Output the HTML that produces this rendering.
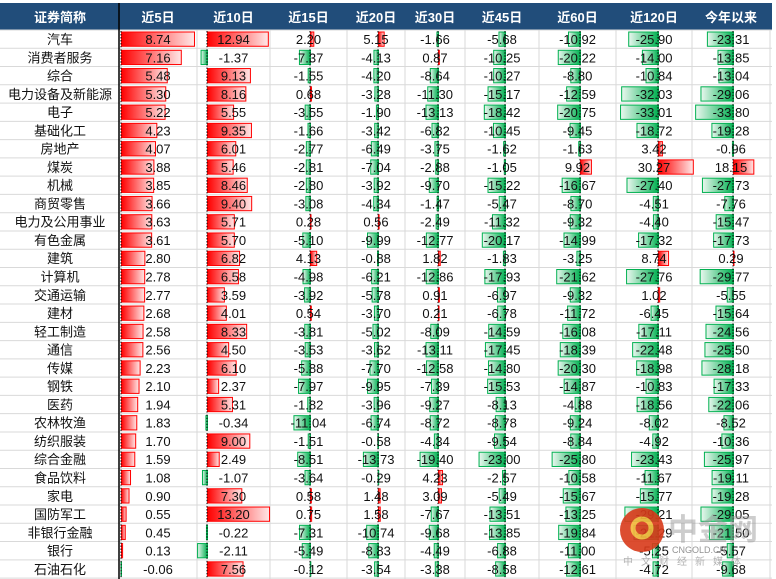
<!DOCTYPE html>
<html><head><meta charset="utf-8"><style>
body{margin:0;background:#fff;width:776px;height:579px;overflow:hidden}
svg{display:block;font-family:"Liberation Sans","Noto Sans CJK SC",sans-serif}
</style></head><body>
<svg id="chart" width="776" height="579" xmlns="http://www.w3.org/2000/svg">
<defs>
<linearGradient id="gpos" x1="0" x2="1" y1="0" y2="0"><stop offset="0" stop-color="#ff0000"/><stop offset="1" stop-color="#ffe8e8"/></linearGradient>
<linearGradient id="gneg" x1="0" x2="1" y1="0" y2="0"><stop offset="0" stop-color="#eaf7ef"/><stop offset="1" stop-color="#00b050"/></linearGradient>
</defs>
</svg>
<script>
const headers = ["近5日","近10日","近15日","近20日","近30日","近45日","近60日","近120日","今年以来"];
const sectors = ["汽车","消费者服务","综合","电力设备及新能源","电子","基础化工","房地产","煤炭","机械","商贸零售","电力及公用事业","有色金属","建筑","计算机","交通运输","建材","轻工制造","通信","传媒","钢铁","医药","农林牧渔","纺织服装","综合金融","食品饮料","家电","国防军工","非银行金融","银行","石油石化"];
const r5 = [8.74,7.16,5.48,5.30,5.22,4.23,4.07,3.88,3.85,3.66,3.63,3.61,2.80,2.78,2.77,2.68,2.58,2.56,2.23,2.10,1.94,1.83,1.70,1.59,1.08,0.90,0.55,0.45,0.13,-0.06];
const r10 = [12.94,-1.37,9.13,8.16,5.55,9.35,6.01,5.46,8.46,9.40,5.71,5.70,6.82,6.58,3.59,4.01,8.33,4.50,6.10,2.37,5.31,-0.34,9.00,2.49,-1.07,7.30,13.20,-0.22,-2.11,7.56];
const r15 = [2.20,-7.37,-1.55,0.68,-3.55,-1.66,-2.77,-2.81,-2.80,-3.08,0.28,-5.10,4.13,-4.98,-3.92,0.54,-3.81,-3.53,-5.88,-7.97,-1.82,-11.04,-1.51,-8.51,-3.64,0.58,0.75,-7.31,-5.49,-0.12];
const r20 = [5.15,-4.13,-4.20,-3.28,-1.90,-3.42,-6.49,-7.04,-3.92,-4.34,0.56,-9.99,-0.88,-6.21,-5.78,-3.70,-5.02,-3.62,-7.70,-9.95,-3.96,-6.74,-0.58,-13.73,-0.29,1.48,1.58,-10.74,-8.83,-3.54];
const r30 = [-1.66,0.87,-8.64,-11.30,-13.13,-6.82,-3.75,-2.88,-9.70,-1.47,-2.49,-12.77,1.82,-12.86,0.91,0.21,-8.09,-13.11,-12.58,-7.39,-9.27,-8.72,-4.34,-19.40,4.23,3.09,-7.67,-9.68,-4.49,-3.38];
const r45 = [-5.68,-10.25,-10.27,-15.17,-18.42,-10.45,-1.62,-1.05,-15.22,-5.47,-11.32,-20.17,-1.83,-17.93,-6.97,-6.78,-14.59,-17.45,-14.80,-15.53,-8.13,-8.78,-9.54,-23.00,-2.57,-5.49,-13.51,-13.85,-6.88,-8.58];
const r60 = [-10.92,-20.22,-8.80,-12.59,-20.75,-9.45,-1.63,9.92,-16.67,-8.70,-9.32,-14.99,-3.25,-21.62,-9.32,-11.72,-16.08,-18.39,-20.30,-14.87,-4.88,-9.24,-8.84,-25.80,-10.58,-15.67,-13.25,-19.84,-11.00,-12.61];
const r120 = [-25.90,-14.00,-10.84,-32.03,-33.01,-18.72,3.42,30.27,-27.40,-4.51,-4.40,-17.32,8.74,-27.76,1.02,-6.45,-17.11,-22.48,-18.98,-10.83,-18.56,-8.02,-4.92,-23.43,-11.67,-15.77,-29.21,-21.29,-5.25,-4.72];
const rytd = [-23.31,-13.85,-13.04,-29.06,-33.80,-19.28,-0.96,18.15,-27.73,-7.76,-15.47,-17.73,0.29,-29.77,-5.55,-15.64,-24.56,-25.50,-28.18,-17.33,-22.06,-8.52,-10.36,-25.97,-19.11,-19.28,-29.05,-21.50,-5.57,-9.68];
const series = [r5,r10,r15,r20,r30,r45,r60,r120,rytd];
const colX0 = [119,197,270,347,405,465,539,616,692];
const colX1 = [197,270,347,405,465,539,616,692,770];
const axisX = [121,207,310,378,438,505,580,658,733];
const pxPerUnit = [8.35,4.7,1.5,1.1,0.95,1.15,1.1,1.15,1.12];
const NS="http://www.w3.org/2000/svg";
const svg=document.getElementById('chart');
const top0=30, rowH=18.27;
function mk(tag,attrs,parent){const e=document.createElementNS(NS,tag);for(const k in attrs)e.setAttribute(k,attrs[k]);(parent||svg).appendChild(e);return e;}
function rowY(i){return top0+i*rowH;}
function barX(c,v){return axisX[c]+v*pxPerUnit[c];}
// header
let h=mk('rect',{x:0,y:3,width:772,height:27,fill:'#214d7a'});


let t=mk('text',{x:60,y:22,'text-anchor':'middle','font-size':13,'font-weight':'bold',fill:'#fff'});t.textContent='证券简称';


headers.forEach((s,c)=>{const e=mk('text',{x:(colX0[c]+colX1[c])/2,y:22,'text-anchor':'middle','font-size':13,'font-weight':'bold',fill:'#fff'});e.textContent=s;

});
// grid
for(let i=0;i<=sectors.length;i++){mk('line',{x1:0,x2:772,y1:rowY(i),y2:rowY(i),stroke:'#d9d9d9','stroke-width':1});}
colX1.forEach(x=>mk('line',{x1:x,x2:x,y1:30,y2:579,stroke:'#d9d9d9','stroke-width':1}));
mk('line',{x1:119,x2:119,y1:3,y2:579,stroke:'#000','stroke-width':1.5});
// rows
sectors.forEach((name,i)=>{
  const y=rowY(i);
  const n=mk('text',{x:60,y:y+14,'text-anchor':'middle','font-size':13,fill:'#111'});n.textContent=name;
  
  
  series.forEach((arr,c)=>{
    const v=arr[i];const a=axisX[c];const b=barX(c,v);
    const x=Math.min(a,b),w=Math.max(Math.abs(b-a),0.5);
    const r=mk('rect',{x:x+0.5,y:y+2,width:w,height:rowH-4,fill:v>=0?'url(#gpos)':'url(#gneg)',stroke:v>=0?'#ff0000':'#00b050','stroke-width':1});
    
    
    mk('line',{x1:a,x2:a,y1:y+1,y2:y+rowH-1,stroke:'#000','stroke-width':1,'stroke-dasharray':'1.5,1.5'});
    const tx=mk('text',{x:(colX0[c]+colX1[c])/2,y:y+14,'text-anchor':'middle','font-size':13,fill:'#111'});tx.textContent=v.toFixed(2);
    
    
  });
});
// watermark
const wm=mk('g',{opacity:0.9});


mk('circle',{cx:642,cy:530,r:22,fill:'#d93a1a'},wm);
mk('circle',{cx:642,cy:528,r:9,fill:'none',stroke:'#f5b83a','stroke-width':5},wm);
let w1=mk('text',{x:668,y:540,'font-size':30,'font-weight':'bold',fill:'#999','fill-opacity':0.55},wm);w1.textContent='中金网';
let w2=mk('text',{x:672,y:553,'font-size':9,fill:'#888'},wm);w2.textContent='CNGOLD.CN';
let w3=mk('text',{x:623,y:565,'font-size':10,fill:'#aaa','letter-spacing':8},wm);w3.textContent='中文财经新媒体';
</script>
</body></html>
